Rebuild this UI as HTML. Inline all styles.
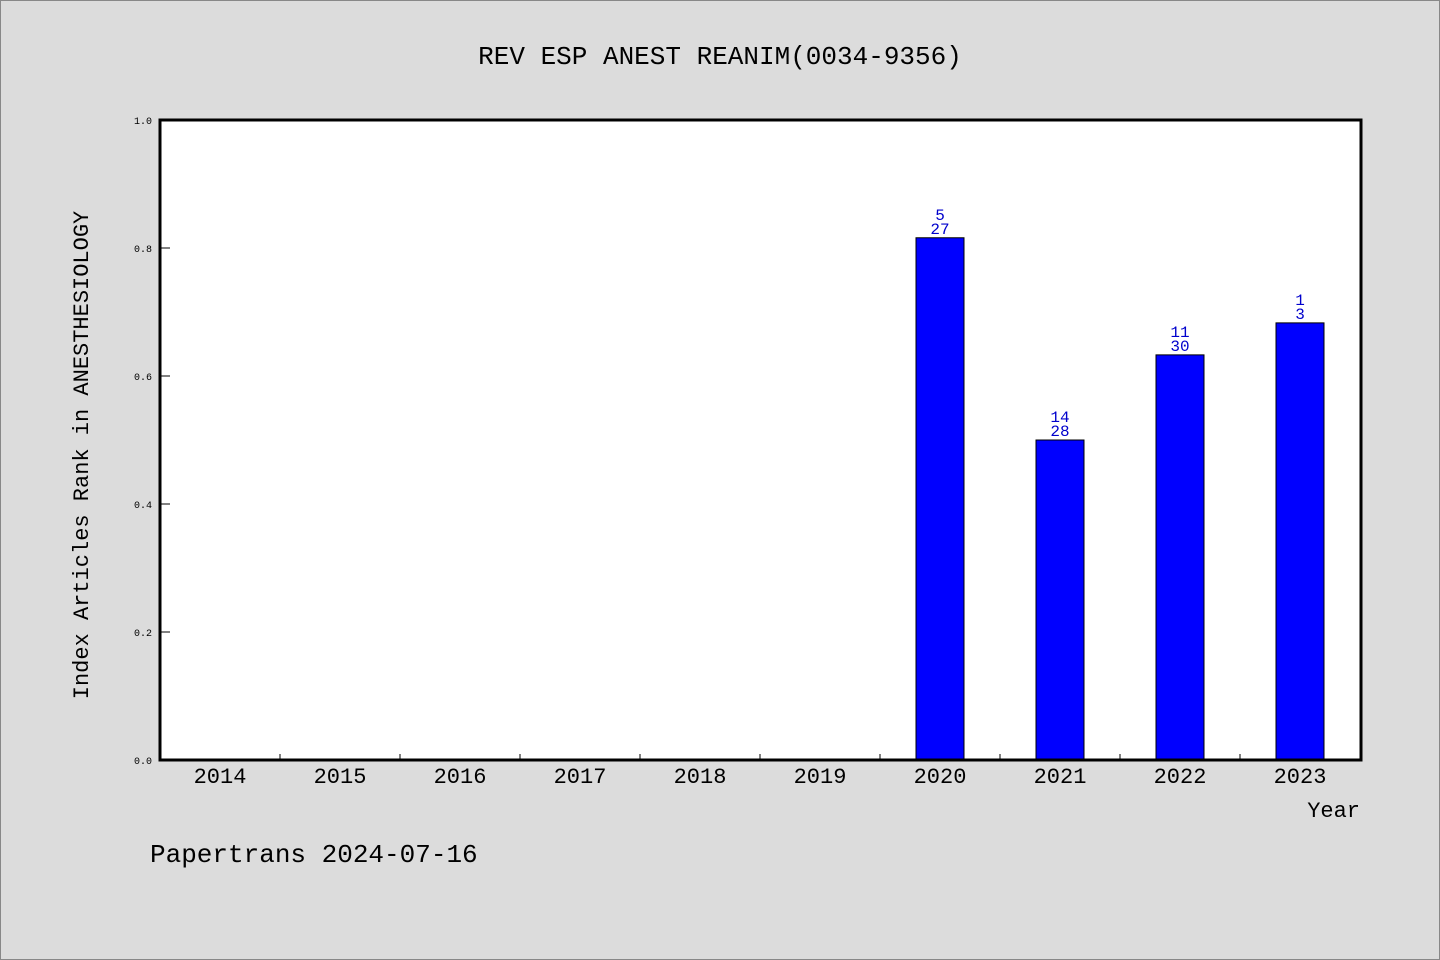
<!DOCTYPE html>
<html><head><meta charset="utf-8"><style>
html,body{margin:0;padding:0;background:#dcdcdc;}
svg{display:block;}
text{font-family:"Liberation Mono","WenQuanYi Zen Hei",monospace;}
</style></head><body>
<svg id="chart" width="1440" height="960">
<rect x="0.5" y="0.5" width="1439" height="959" fill="#dcdcdc" stroke="#888"/>
<text x="720" y="64" text-anchor="middle" font-size="26">REV ESP ANEST REANIM(0034-9356)</text>
<rect x="160" y="120" width="1201" height="640" fill="#fff"/>
<g id="marks"></g>
<rect x="160" y="120" width="1201" height="640" fill="none" stroke="#000" stroke-width="3"/>
<text x="1360" y="817" text-anchor="end" font-size="22">Year</text>
<text transform="translate(88,455) rotate(-90)" text-anchor="middle" font-size="22">Index Articles Rank in ANESTHESIOLOGY</text>
<text x="150" y="862" font-size="26">Papertrans 2024-07-16</text>
</svg>
<script>
const years=["2014","2015","2016","2017","2018","2019","2020","2021","2022","2023"];
const values=[null,null,null,null,null,null,0.816,0.5,0.633,0.683];
const rankTop=["","","","","","","5","14","11","1"];
const rankBottom=["","","","","","","27","28","30","3"];
const yTicks=[0,0.2,0.4,0.6,0.8,1.0];
const X0=160,W=1201,Y0=760,H=640,band=120;
const x=i=>X0+band*i+band/2;
const y=v=>Y0-v*H;
const g=document.getElementById('marks');
const NS='http://www.w3.org/2000/svg';
function mk(t,a){const e=document.createElementNS(NS,t);for(const k in a)e.setAttribute(k,a[k]);g.appendChild(e);return e;}
yTicks.forEach(v=>{
 const l=mk('line',{x1:X0,x2:X0+10,y1:y(v),y2:y(v),stroke:'#000'});
 
 
 const t=mk('text',{x:152,y:y(v)+4,'text-anchor':'end','font-size':10});
 t.textContent=v.toFixed(1);
 
 
});
years.forEach((yr,i)=>{
 if(i>0){const l=mk('line',{x1:X0+band*i,x2:X0+band*i,y1:Y0,y2:Y0-6,stroke:'#000'});
 
 }
 const t=mk('text',{x:x(i),y:783,'text-anchor':'middle','font-size':22});
 t.textContent=yr;
 
 
 const v=values[i];
 if(v!=null){
  const b=mk('rect',{x:x(i)-24,y:y(v),width:48,height:Y0-y(v),fill:'#0000ff',stroke:'#000','stroke-width':1});
  
  
  const a=mk('text',{x:x(i),y:y(v)-18,'text-anchor':'middle','font-size':16,fill:'#0000cc'});
  a.textContent=rankTop[i];
  
  
  const c=mk('text',{x:x(i),y:y(v)-4,'text-anchor':'middle','font-size':16,fill:'#0000cc'});
  c.textContent=rankBottom[i];
  
  
 }
});
</script>
</body></html>
